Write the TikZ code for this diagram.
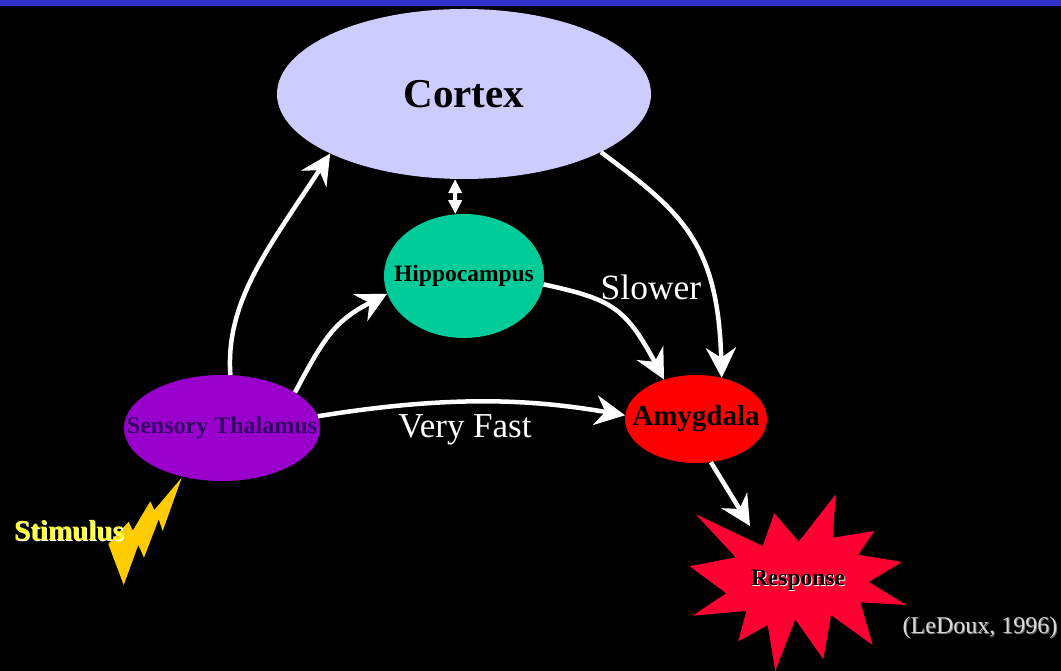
\documentclass[tikz,border=0pt]{standalone}
\usepackage{fontspec}
\setmainfont{Liberation Serif}
\usetikzlibrary{arrows.meta}
\definecolor{cortexcolor}{HTML}{ccccff}
\definecolor{hippocolor}{HTML}{00cc99}
\definecolor{thalamuscolor}{HTML}{9900cc}
\definecolor{amygdalacolor}{HTML}{ff0000}
\definecolor{responsecolor}{HTML}{ff0033}
\definecolor{boltcolor}{HTML}{ffcc00}
\definecolor{bandcolor}{HTML}{3333cc}
\definecolor{stimuluscolor}{HTML}{ffff33}
\definecolor{thalamustext}{HTML}{330066}
\newcommand{\shadowed}[2]{\leavevmode\rlap{\raisebox{-1pt}{\kern1pt\textcolor{#1}{#2}}}#2}
\newcommand{\fsize}[1]{\fontsize{#1}{#1}\selectfont}
\tikzset{
    region/.style = {ellipse, draw = none, inner sep = 0pt},
    link/.style = {-{Stealth[length = 30pt, width = 30pt, inset = 10pt]}, line width = 4.5pt, color = white},
    shortlink/.style = {{Triangle[length = 14pt, width = 13pt]}-{Triangle[length = 14pt, width = 13pt]}, line width = 4pt, color = white},
    caption/.style = {text = white, inner sep = 0pt}
}
\usetikzlibrary{shapes.geometric}
\begin{document}
\begin{tikzpicture}
        \useasboundingbox (0pt, 0pt) rectangle (1061pt, 671pt);
        \fill [black] (0pt, 0pt) rectangle (1061pt, 671pt);
        \fill [bandcolor] (0pt, 665pt) rectangle (1061pt, 671pt);

        % Nodes
        \node [region, fill = cortexcolor, minimum width = 374pt, minimum height = 170pt] (cortex) at (464pt, 577pt) {\fsize{41}\textbf{Cortex}};
        \node [region, fill = hippocolor, minimum width = 160pt, minimum height = 124pt] (hippocampus) at (464pt, 395pt) {\makebox[0pt]{\fsize{23.5}\textbf{Hippocampus}}};
        \node [region, fill = thalamuscolor, minimum width = 196pt, minimum height = 106pt] (thalamus) at (222pt, 243pt) {\makebox[0pt]{\fsize{24}\textcolor{thalamustext}{\textbf{Sensory Thalamus}}}};
        \node [region, fill = amygdalacolor, minimum width = 142pt, minimum height = 88pt] (amygdala) at (696pt, 252pt) {\makebox[0pt]{\fsize{29}\textbf{Amygdala}}};

        % Bolt and star
        \fill [boltcolor] (181.7pt, 193.3pt) -- (162.7pt, 140pt) -- (158.7pt, 151.7pt) -- (144pt, 113.3pt) -- (138.3pt, 126pt) -- (123.7pt, 86pt) -- (108.3pt, 127pt) -- (128.7pt, 149.3pt) -- (132.7pt, 140.3pt) -- (150.3pt, 169.7pt) -- (154.3pt, 161pt) -- cycle;
        \fill [responsecolor] (695.7pt, 156.7pt) -- (762.7pt, 125pt) -- (774.3pt, 157.7pt) -- (798.7pt, 129.3pt) -- (835.7pt, 176.7pt) -- (832.7pt, 133.3pt) -- (874.3pt, 140pt) -- (858.3pt, 116.3pt) -- (902pt, 109pt) -- (868.7pt, 89pt) -- (906.3pt, 66pt) -- (860.3pt, 68.7pt) -- (872.7pt, 26pt) -- (831pt, 56pt) -- (823.3pt, 11.7pt) -- (795.3pt, 51.7pt) -- (775.3pt, 0pt) -- (767.7pt, 46pt) -- (738.3pt, 29.7pt) -- (746.3pt, 60pt) -- (692.7pt, 55.3pt) -- (726.3pt, 77.7pt) -- (689.7pt, 104.7pt) -- (735.7pt, 113.7pt) -- cycle;
        \coordinate (responsetip) at (750pt, 145pt);

        % Labels
        \node [caption] (response) at (798pt, 90pt) {\fsize{23.5}\textcolor{black}{\shadowed{white}{\textbf{Response}}}};
        \node [caption] (stimulus) at (69pt, 140pt) {\fsize{29}\textcolor{stimuluscolor}{\shadowed{white}{\textbf{Stimulus}}}};
        \node [caption] (slower) at (651pt, 384pt) {\fsize{35.5}Slower};
        \node [caption] (veryfast) at (465pt, 241pt) {\fsize{35}Very Fast};
        \node [caption, text = white!85!black] (ledoux) at (980pt, 43pt) {\fsize{24}\shadowed{white!45!black}{(LeDoux, 1996)}};

        % Draw the links
        \draw [link] (thalamus.81) .. controls (225pt, 370pt) and (270pt, 425pt) .. (cortex.204.5);
        \draw [link] (thalamus.26.6) .. controls (325pt, 335pt) and (335pt, 350pt) .. (hippocampus.193.5);
        \draw [link] (thalamus.7.5) .. controls (450pt, 276pt) and (530pt, 272pt) .. (amygdala.177);
        \draw [link] (hippocampus.-6.4) .. controls (610pt, 372pt) and (625pt, 365pt) .. (amygdala.129);
        \draw [link] (cortex.-23) .. controls (680pt, 460pt) and (718pt, 430pt) .. (amygdala.58.5);
        \draw [link] (amygdala.-71) -- (responsetip);
        \draw [shortlink] (cortex.264) -- (hippocampus.98);
\end{tikzpicture}
\end{document}
